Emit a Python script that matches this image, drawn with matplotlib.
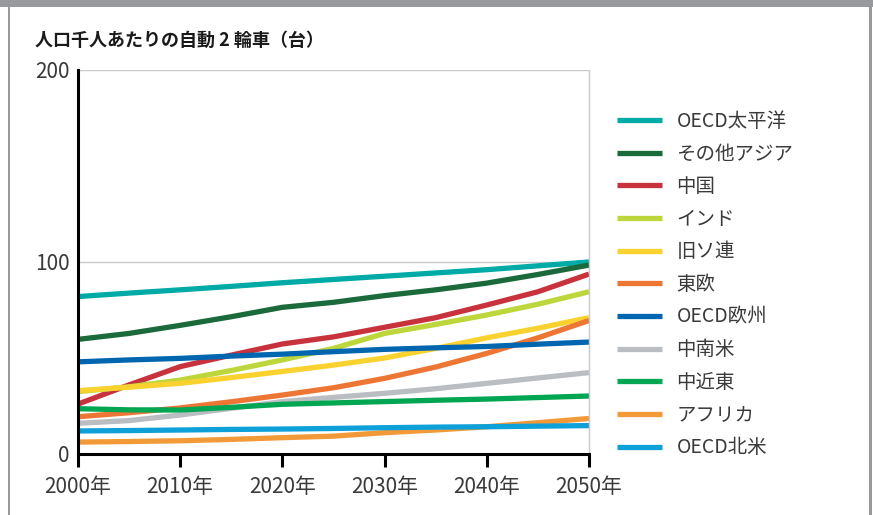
import numpy as np
import matplotlib
matplotlib.use("Agg")
import matplotlib.pyplot as plt
from matplotlib.patches import Rectangle

plt.rcParams['font.family'] = ['Noto Sans CJK JP', 'DejaVu Sans']

# 人口千人あたりの自動2輪車（台）、5年刻み
years = [2000, 2005, 2010, 2015, 2020, 2025, 2030, 2035, 2040, 2045, 2050]
regions = ["OECD太平洋", "その他アジア", "中国", "インド", "旧ソ連", "東欧",
           "OECD欧州", "中南米", "中近東", "アフリカ", "OECD北米"]
oecd_pacific = [82, 83.8, 85.5, 87.3, 89.2, 90.9, 92.6, 94.3, 96, 98, 100]
other_asia = [59.7, 62.8, 67, 71.5, 76.4, 79, 82.5, 85.5, 89, 93.5, 98.4]
china = [26, 36, 45.5, 51.5, 57.3, 61, 66, 71, 77.6, 84.5, 93.7]
india = [32.5, 35, 38.5, 43.5, 49, 55, 62.8, 67.5, 72.4, 78, 84.5]
former_ussr = [33, 34.8, 36.8, 39.8, 43, 46.3, 50, 55, 60.5, 65.5, 71]
east_europe = [19.4, 21.5, 24, 27.2, 30.7, 34.5, 39.4, 45.3, 52.4, 60.5, 69.5]
oecd_europe = [48, 49, 49.8, 51, 52, 53.3, 54.5, 55.3, 56, 57.2, 58.3]
latin_america = [16, 17.4, 20.3, 23.8, 27.3, 29.5, 31.6, 34, 36.8, 39.6, 42.4]
middle_east = [23.6, 23, 22.9, 24.3, 25.9, 26.6, 27.3, 28, 28.6, 29.4, 30.2]
africa = [6.2, 6.5, 6.9, 7.6, 8.5, 9.3, 11.1, 12.5, 14.2, 16.3, 18.5]
oecd_na = [12, 12.2, 12.5, 12.8, 13, 13.3, 13.7, 14, 14.2, 14.5, 14.8]
series = [oecd_pacific, other_asia, china, india, former_ussr, east_europe,
          oecd_europe, latin_america, middle_east, africa, oecd_na]
colors = ["#00aaa6", "#1b6a3b", "#c8323d", "#bdd63b", "#fad22f", "#ee7634",
          "#0066b0", "#babdc2", "#00a651", "#f39a38", "#0ea0d8"]

xticks = [2000, 2010, 2020, 2030, 2040, 2050]
xlabels = [f"{y}年" for y in xticks]
yticks = [0, 100, 200]

W, H = 873, 515
fig = plt.figure(figsize=(W / 100, H / 100), dpi=100)
ax = fig.add_axes([78 / W, 1 - 454 / H, (589 - 78) / W, (454 - 70) / H])

for vals, name, c in zip(series, regions, colors):
    ax.plot(years, vals, color=c, lw=3.8, label=name, solid_capstyle='butt')

ax.set_xlim(2000, 2050)
ax.set_ylim(0, 200)
ax.set_xticks(xticks)
ax.set_xticklabels(xlabels)
ax.set_yticks(yticks)
ax.tick_params(axis='x', direction='out', length=9, width=2.2, color='black',
               labelsize=15, labelcolor='#3a3a3a', pad=7)
ax.tick_params(axis='y', length=0, labelsize=15, labelcolor='#3a3a3a', pad=6)

for y in [100, 200]:
    ax.axhline(y, color='#c8cad0', lw=1.0, zorder=0)
ax.spines['left'].set_linewidth(2.2)
ax.spines['bottom'].set_linewidth(2.2)
ax.spines['left'].set_color('black')
ax.spines['bottom'].set_color('black')
ax.spines['right'].set_color('#c8cad0')
ax.spines['right'].set_linewidth(1.0)
ax.spines['top'].set_visible(False)

leg = fig.legend(loc='upper left', bbox_to_anchor=(609 / W, 1 - 103 / H),
                 frameon=False, fontsize=14, handlelength=2.3,
                 handletextpad=0.77, labelspacing=0.6, borderaxespad=0)
for t in leg.get_texts():
    t.set_color('#3a3a3a')

fig.text(35 / W, 1 - 40 / H, "人口千人あたりの自動 2 輪車（台）", fontsize=13,
         fontweight='bold', color='#1a1a1a', va='center', ha='left')

# 外枠
frame = '#98999c'
fig.add_artist(Rectangle((0, 1 - 7 / H), 1, 7 / H, transform=fig.transFigure,
                         color=frame, lw=0))
fig.add_artist(Rectangle((8 / W, 0), 2 / W, 1, transform=fig.transFigure,
                         color=frame, lw=0))
fig.add_artist(Rectangle((869 / W, 0), 3 / W, 1, transform=fig.transFigure,
                         color=frame, lw=0))

fig.savefig("out.png", dpi=100)
